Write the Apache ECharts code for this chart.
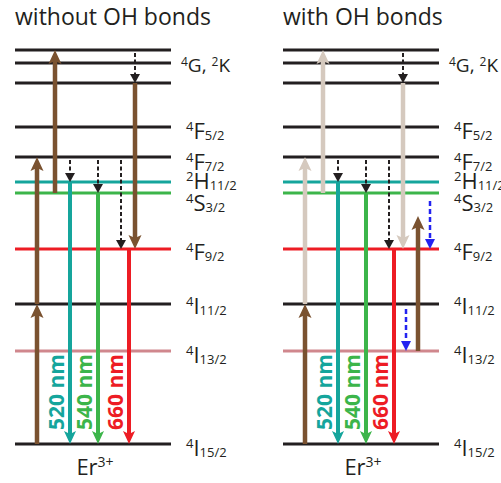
<!DOCTYPE html>
<html>
<head>
<meta charset="utf-8">
<script src="https://cdn.jsdelivr.net/npm/echarts@6/dist/echarts.min.js"></script>
<style>
  html, body { margin: 0; padding: 0; background: #fff; }
  #chart { width: 501px; height: 483px; }
</style>
</head>
<body>
<div id="chart"></div>
<script>
// Er3+ energy levels, in diagram units above the 4I15/2 ground state
const levelTerms  = ['4I15/2', '4I13/2', '4I11/2', '4F9/2', '4S3/2', '2H11/2', '4F7/2', '4F5/2', 'GK-a', 'GK-b', 'GK-c'];
const levelEnergy = [0, 93, 140, 195, 251, 262, 287, 317, 361, 381, 394];
const levelColors = ['#231f20', '#d0878d', '#231f20', '#ed1c24', '#3cb54a', '#15a59c', '#231f20', '#231f20', '#231f20', '#231f20', '#231f20'];
// printed term symbols (the three upper levels share one label)
const levelLabels = ['4I15/2', '4I13/2', '4I11/2', '4F9/2', '4S3/2', '2H11/2', '4F7/2', '4F5/2', '', '4G, 2K', ''];

// emission wavelengths of the visible bands
const emissionNm = { '2H11/2': 520, '4S3/2': 540, '4F9/2': 660 };

const panelTitles = ['without OH bonds', 'with OH bonds'];
const ionName = 'Er';
const ionCharge = '3+';

// transitions: [column, from, to, kind]
const transNoOH = [
  [22, '4I15/2', '4I11/2', 'pump'],
  [22, '4I11/2', '4F7/2', 'pump'],
  [40, '4S3/2', 'GK-c', 'pump'],
  [120, 'GK-c', 'GK-a', 'relax'],
  [120, 'GK-a', '4F9/2', 'pump'],
  [55, '4F7/2', '2H11/2', 'relax'],
  [83, '4F7/2', '4S3/2', 'relax'],
  [106, '4F7/2', '4F9/2', 'relax'],
  [55, '2H11/2', '4I15/2', 'emit'],
  [83, '4S3/2', '4I15/2', 'emit'],
  [114, '4F9/2', '4I15/2', 'emit']
];
const transOH = [
  [22, '4I15/2', '4I11/2', 'pump'],
  [22, '4I11/2', '4F7/2', 'faint'],
  [40, '4S3/2', 'GK-c', 'faint'],
  [120, 'GK-c', 'GK-a', 'relax'],
  [120, 'GK-a', '4F9/2', 'faint'],
  [55, '4F7/2', '2H11/2', 'relax'],
  [83, '4F7/2', '4S3/2', 'relax'],
  [106, '4F7/2', '4F9/2', 'relax'],
  [55, '2H11/2', '4I15/2', 'emit'],
  [83, '4S3/2', '4I15/2', 'emit'],
  [111, '4F9/2', '4I15/2', 'emit'],
  [135, '4I13/2', 228, 'pump'],
  [147, 246, '4F9/2', 'quench'],
  [123, 138, '4I13/2', 'quench']
];

const FONT = '"Open Sans", "DejaVu Sans", sans-serif';
const INK = '#231f20';
const PANEL_W = 156;

const arrowStyles = {
  pump:   { color: '#7a5230', width: 4.5, headW: 13, headL: 14, notch: 3, dash: null },
  faint:  { color: '#d5c9be', width: 4.5, headW: 13, headL: 14, notch: 3, dash: null },
  emit:   { color: null,      width: 4,   headW: 12, headL: 13, notch: 3, dash: null },
  relax:  { color: INK,       width: 2,   headW: 10, headL: 9,  notch: 0, dash: [4, 2.5] },
  quench: { color: '#2323f0', width: 2.5, headW: 10, headL: 10, notch: 0, dash: [5, 3] }
};

function energyOf(v) {
  return typeof v === 'number' ? v : levelEnergy[levelTerms.indexOf(v)];
}

function termRich(t) {
  if (!t) return '';
  if (t.indexOf(',') >= 0) {
    return t.split(', ').map(p => '{gs|' + p[0] + '}{gm|' + p.slice(1) + '}').join('{gm|, }');
  }
  const m = t.match(/^(\d)([A-Z])(.*)$/);
  return '{sup|' + m[1] + '}{main|' + m[2] + '}{sub|' + m[3] + '}';
}

const termRichStyles = {
  main: { fontSize: 22, lineHeight: 22, fontFamily: FONT, fill: INK },
  sup:  { fontSize: 13, lineHeight: 1,  fontFamily: FONT, fill: INK, verticalAlign: 'top' },
  sub:  { fontSize: 13, lineHeight: 9,  fontFamily: FONT, fill: INK, verticalAlign: 'bottom' },
  gm:   { fontSize: 19, lineHeight: 20, fontFamily: FONT, fill: INK },
  gs:   { fontSize: 12, lineHeight: 14, fontFamily: FONT, fill: INK, verticalAlign: 'top' }
};

// vertical nudges of the term labels relative to their level line (px)
const labelNudge = [3, 3, 1, 2, 9, -2, 4, 3, 0, 2, 0];

function levelRenderer(params, api) {
  const i = params.dataIndex;
  const e = api.value(0);
  const a = api.coord([0, e]);
  const b = api.coord([PANEL_W, e]);
  const children = [{
    type: 'line',
    shape: { x1: a[0], y1: a[1], x2: b[0], y2: b[1] },
    style: { stroke: levelColors[i], lineWidth: 3 }
  }];
  const label = levelLabels[i];
  if (label) {
    const gap = label.indexOf(',') >= 0 ? 10 : 15;
    children.push({
      type: 'text',
      x: b[0] + gap,
      y: b[1] + labelNudge[i],
      style: {
        text: termRich(label),
        rich: termRichStyles,
        align: 'left',
        verticalAlign: 'middle',
        fill: INK
      }
    });
  }
  if (e === 0) {
    const c = api.coord([PANEL_W / 2 + 2, 0]);
    children.push({
      type: 'text',
      x: c[0],
      y: c[1] + 22,
      style: {
        text: '{ion|' + ionName + '}{chg|' + ionCharge + '}',
        rich: {
          ion: { fontSize: 22, lineHeight: 24, fontFamily: FONT, fill: INK },
          chg: { fontSize: 14, lineHeight: 14, fontFamily: FONT, fill: INK, verticalAlign: 'top' }
        },
        align: 'center',
        verticalAlign: 'middle'
      }
    });
  }
  return { type: 'group', children: children };
}

function arrowRenderer(list) {
  return function (params, api) {
    const t = list[params.dataIndex];
    const kind = t[3];
    const st = arrowStyles[kind];
    const color = kind === 'emit' ? levelColors[levelTerms.indexOf(t[1])] : st.color;
    const p0 = api.coord([api.value(0), api.value(1)]);
    const p1 = api.coord([api.value(0), api.value(2)]);
    const dx = p1[0] - p0[0], dy = p1[1] - p0[1];
    const len = Math.hypot(dx, dy);
    const ux = dx / len, uy = dy / len;
    const nx = -uy, ny = ux;
    const hw = st.headW / 2;
    const back = st.headL - st.notch;
    const sx = p1[0] - ux * back, sy = p1[1] - uy * back;
    const bx = p1[0] - ux * st.headL, by = p1[1] - uy * st.headL;
    const start = st.dash ? [p0[0] + ux * 3, p0[1] + uy * 3] : p0;
    const children = [
      {
        type: 'line',
        shape: { x1: start[0], y1: start[1], x2: st.dash ? bx : sx, y2: st.dash ? by : sy },
        style: { stroke: color, lineWidth: st.width, lineDash: st.dash || null }
      },
      {
        type: 'polygon',
        shape: { points: [p1, [bx + nx * hw, by + ny * hw], [sx, sy], [bx - nx * hw, by - ny * hw]] },
        style: { fill: color }
      }
    ];
    if (kind === 'emit' && emissionNm[t[1]]) {
      children.push({
        type: 'text',
        x: p1[0] - 14,
        y: p1[1] - 14,
        rotation: Math.PI / 2,
        style: {
          text: emissionNm[t[1]] + ' nm',
          fill: color,
          fontSize: 21,
          fontWeight: 'bold',
          fontFamily: FONT,
          align: 'left',
          verticalAlign: 'middle'
        }
      });
    }
    return { type: 'group', children: children };
  };
}

const chart = echarts.init(document.getElementById('chart'), null, { renderer: 'svg' });

const grids = [
  { left: 15, top: 50, width: PANEL_W, height: 394 },
  { left: 283, top: 50, width: PANEL_W, height: 394 }
];

chart.setOption({
  animation: false,
  backgroundColor: '#fff',
  title: panelTitles.map((txt, k) => ({
    text: txt,
    left: grids[k].left - 5,
    top: -1,
    textStyle: { fontSize: 23, fontWeight: 'normal', fontFamily: FONT, color: INK }
  })),
  grid: grids,
  xAxis: grids.map((g, k) => ({ type: 'value', gridIndex: k, min: 0, max: PANEL_W, show: false })),
  yAxis: grids.map((g, k) => ({ type: 'value', gridIndex: k, min: 0, max: 394, show: false })),
  series: [
    {
      type: 'custom', xAxisIndex: 0, yAxisIndex: 0, silent: true,
      data: levelEnergy.map(e => [e]), encode: { y: 0 },
      renderItem: levelRenderer
    },
    {
      type: 'custom', xAxisIndex: 0, yAxisIndex: 0, silent: true,
      data: transNoOH.map(t => [t[0], energyOf(t[1]), energyOf(t[2])]),
      encode: { x: 0, y: [1, 2] },
      renderItem: arrowRenderer(transNoOH)
    },
    {
      type: 'custom', xAxisIndex: 1, yAxisIndex: 1, silent: true,
      data: levelEnergy.map(e => [e]), encode: { y: 0 },
      renderItem: levelRenderer
    },
    {
      type: 'custom', xAxisIndex: 1, yAxisIndex: 1, silent: true,
      data: transOH.map(t => [t[0], energyOf(t[1]), energyOf(t[2])]),
      encode: { x: 0, y: [1, 2] },
      renderItem: arrowRenderer(transOH)
    }
  ]
});
</script>
</body>
</html>
